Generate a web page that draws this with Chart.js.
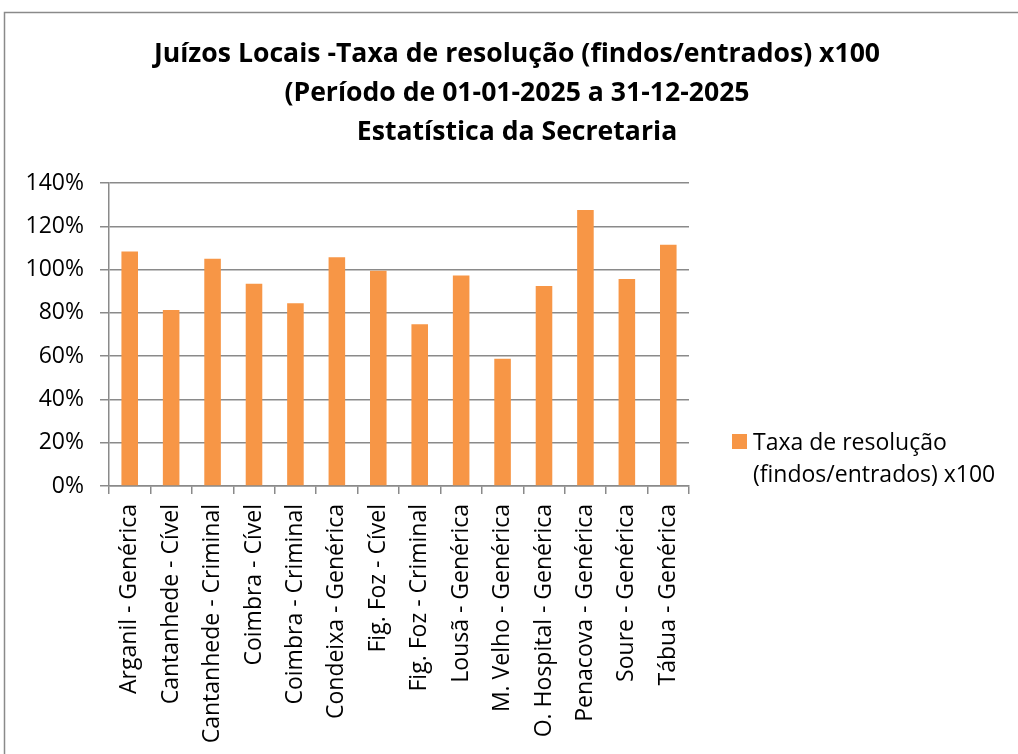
<!DOCTYPE html>
<html>
<head>
<meta charset="utf-8">
<script src="https://cdn.jsdelivr.net/npm/chart.js@4"></script>
<style>
  html, body { margin: 0; padding: 0; background: #fff; }
  #wrap { width: 1018px; height: 754px; }
</style>
</head>
<body>
<div id="wrap"><canvas id="taxaChart" width="1018" height="754"></canvas></div>
<script>
// dados
const tribunais = [
  'Arganil - Genérica', 'Cantanhede - Cível', 'Cantanhede - Criminal',
  'Coimbra - Cível', 'Coimbra - Criminal', 'Condeixa - Genérica',
  'Fig. Foz - Cível', 'Fig. Foz - Criminal', 'Lousã - Genérica',
  'M. Velho - Genérica', 'O. Hospital - Genérica', 'Penacova - Genérica',
  'Soure - Genérica', 'Tábua - Genérica'
];
const taxa = [108.4, 81.3, 105.0, 93.5, 84.4, 105.7, 99.5, 74.7, 97.3, 58.8, 92.4, 127.5, 95.7, 111.5];
const serieLabel = ['Taxa de resolução', '(findos/entrados) x100'];
const titulo = [
  'Juízos Locais -Taxa de resolução (findos/entrados) x100',
  '(Período de 01-01-2025 a 31-12-2025',
  'Estatística da Secretaria'
];

const laranja = '#F79646';
const cinza = '#8a8a8a';
const fonte = "'Open Sans', sans-serif";

// moldura, título centrado na página e legenda em duas linhas
const extras = {
  id: 'extras',
  beforeDraw(chart) {
    const c = chart.ctx;
    c.save();
    c.strokeStyle = cinza;
    c.lineWidth = 1.5;
    c.beginPath();
    c.moveTo(4.5, 760);
    c.lineTo(4.5, 12.5);
    c.lineTo(1030, 12.5);
    c.stroke();
    c.restore();
  },
  afterDraw(chart) {
    const c = chart.ctx;
    c.save();
    c.fillStyle = '#000';
    c.textAlign = 'center';
    c.textBaseline = 'alphabetic';
    c.font = 'bold 26.6px ' + fonte;
    titulo.forEach((t, i) => c.fillText(t, 517, 62 + i * 39));

    c.textAlign = 'left';
    c.fillStyle = laranja;
    c.fillRect(732, 434, 15, 15);
    c.fillStyle = '#000';
    c.font = '23px ' + fonte;
    c.fillText(serieLabel[0], 753, 450);
    c.fillText(serieLabel[1], 753, 482);
    c.restore();
  }
};

new Chart(document.getElementById('taxaChart'), {
  type: 'bar',
  data: {
    labels: tribunais,
    datasets: [{
      label: serieLabel.join(' '),
      data: taxa,
      backgroundColor: laranja,
      barPercentage: 0.4,
      categoryPercentage: 1.0
    }]
  },
  options: {
    responsive: false,
    animation: false,
    layout: { padding: { top: 183, right: 329, bottom: 0, left: 0 } },
    plugins: {
      legend: { display: false },
      tooltip: { enabled: false },
      title: { display: false }
    },
    scales: {
      x: {
        afterFit(scale) { scale.height = 268; },
        grid: { display: true, drawOnChartArea: false, offset: true, color: cinza, lineWidth: 1.5, tickLength: 8 },
        border: { color: cinza, width: 1.5 },
        ticks: { color: '#000', font: { family: fonte, size: 23 }, minRotation: 90, maxRotation: 90, autoSkip: false, padding: 10 }
      },
      y: {
        min: 0,
        max: 140,
        afterFit(scale) { scale.width = 109; },
        grid: { color: cinza, lineWidth: 1.5, tickLength: 9 },
        border: { color: cinza, width: 1.5 },
        ticks: {
          stepSize: 20,
          color: '#000',
          font: { family: fonte, size: 23 },
          padding: 16,
          callback: v => v + '%'
        }
      }
    }
  },
  plugins: [extras]
});
</script>
</body>
</html>
